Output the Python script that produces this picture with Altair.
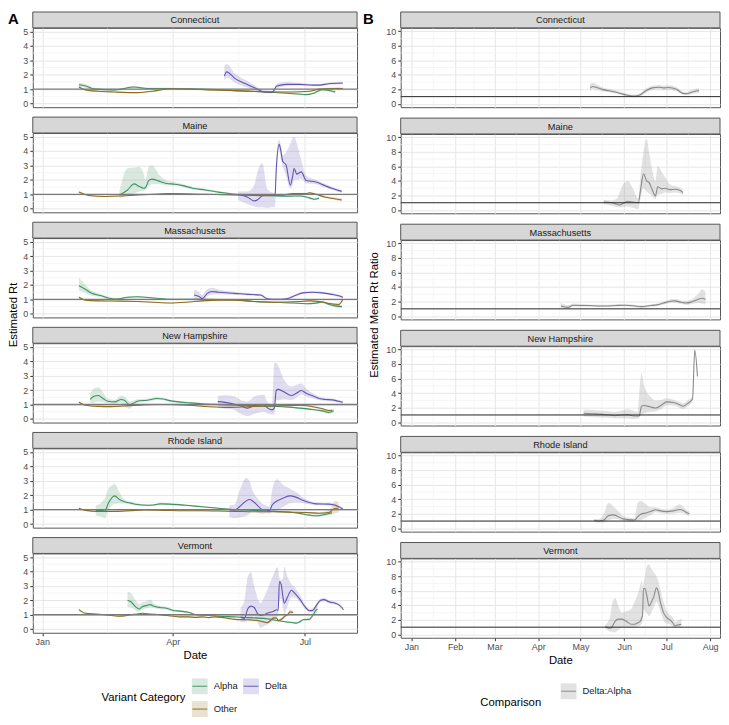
import altair as alt
import pandas as pd

# ---------------- categories, colours, labels ----------------
STATES = ["Connecticut", "Maine", "Massachusetts", "New Hampshire", "Rhode Island", "Vermont"]
VARIANTS = ["Alpha", "Delta", "Other"]
VARIANT_COLORS = ["#3F9363", "#6354B2", "#8F6C1F"]
COMPARISONS = ["Delta:Alpha"]
COMPARISON_COLORS = ["#8A8A8A"]

# axis breaks (x in days since 2021-01-01)
LEFT_X_TICKS = [0, 90, 181]
LEFT_X_MINOR = [45, 135.5]
RIGHT_X_TICKS = [0, 31, 59, 90, 120, 151, 181, 212]
RIGHT_X_MINOR = [15.5, 44.5, 74.5, 105, 135.5, 166, 196.5]
LEFT_Y_TICKS = [0, 1, 2, 3, 4, 5]
LEFT_Y_MINOR = [0.5, 1.5, 2.5, 3.5, 4.5]
RIGHT_Y_TICKS = [0, 2, 4, 6, 8, 10]
RIGHT_Y_MINOR = [1, 3, 5, 7, 9]
REFERENCE_LINE = [1]

# ---------------- Panel A: estimated Rt, rows = (day, Rt, lower, upper) ----------------
CT_ALPHA = [(25.3,1.30,1.15,1.45),(29.8,1.22,1.10,1.36),(36.5,1.00,0.92,1.08),(49.9,0.95,0.88,1.02),
            (63.3,1.15,1.08,1.22),(72.3,1.05,0.99,1.11),(90.2,1.05,1.00,1.10),(110.3,1.00,0.95,1.05),
            (132.7,0.90,0.86,0.94),(155.0,0.80,0.76,0.84),(168.5,0.72,0.68,0.76),(181.9,0.62,0.57,0.67),
            (186.4,0.70,0.64,0.76),(193.1,0.97,0.89,1.05),(202.0,0.80,0.70,0.90)]
CT_DELTA = [(125.5,1.90,1.60,2.60),(127.1,2.20,1.80,2.75),(132.7,1.75,1.45,2.10),(141.6,1.30,1.10,1.55),
            (148.3,1.00,0.88,1.15),(152.8,0.80,0.72,0.90),(158.4,0.78,0.70,0.88),(161.7,1.22,1.05,1.40),
            (168.5,1.33,1.22,1.50),(177.4,1.33,1.24,1.42),(186.4,1.28,1.20,1.36),(190.8,1.28,1.20,1.36),
            (197.5,1.38,1.30,1.46),(207.2,1.43,1.34,1.52)]
CT_OTHER = [(25.3,1.15,1.05,1.25),(29.8,0.95,0.90,1.00),(38.7,0.85,0.80,0.90),(49.9,0.80,0.76,0.84),
            (65.5,0.76,0.72,0.80),(79.0,0.90,0.86,0.94),(87.9,1.03,0.99,1.07),(101.3,1.00,0.97,1.03),
            (114.8,0.95,0.92,0.98),(132.7,0.90,0.87,0.93),(155.0,0.82,0.79,0.85),(172.9,0.80,0.77,0.83),
            (184.1,0.85,0.81,0.89),(190.8,1.00,0.95,1.05),(199.8,1.05,0.98,1.12),(207.2,1.05,0.97,1.13)]

ME_ALPHA = [(53.2,0.95,0.75,1.20),(58.8,1.30,0.90,2.80),(63.3,1.72,1.05,2.85),(66.7,1.55,1.20,2.90),
            (70.0,1.42,1.25,2.40),(71.1,1.45,1.30,2.00),(73.4,1.95,1.55,2.90),(75.6,2.05,1.70,3.00),
            (81.2,1.88,1.70,2.30),(85.7,1.75,1.60,1.95),(91.3,1.70,1.60,1.85),(96.9,1.60,1.50,1.72),
            (103.6,1.42,1.34,1.52),(112.5,1.30,1.22,1.38),(121.5,1.15,1.08,1.22),(132.7,1.00,0.94,1.06),
            (146.1,0.95,0.89,1.01),(159.5,0.90,0.85,0.95),(170.8,0.87,0.82,0.92),(177.4,0.88,0.82,0.94),
            (184.1,0.75,0.68,0.82),(187.5,0.66,0.58,0.74),(190.8,0.72,0.62,0.82)]
ME_DELTA = [(135.0,0.98,0.60,1.20),(141.6,0.80,0.30,1.20),(146.0,0.54,0.15,1.60),(148.5,0.62,0.10,2.60),
            (151.7,0.90,0.10,3.15),(155.0,0.95,0.05,1.40),(159.5,0.95,0.10,1.10),(160.5,1.00,0.10,1.20),
            (161.3,2.70,2.20,3.20),(163.3,4.46,4.10,4.80),(164.5,4.00,3.50,4.40),(165.8,3.27,2.90,3.70),
            (168.0,3.05,2.30,3.90),(171.0,1.63,1.40,4.50),(172.5,2.20,1.60,4.90),(173.6,2.79,2.00,5.00),
            (175.5,2.40,2.00,4.50),(178.5,2.55,2.10,3.40),(181.9,1.96,1.75,2.30),(188.6,1.85,1.70,2.00),
            (195.0,1.59,1.47,1.71),(200.0,1.40,1.30,1.50),(206.4,1.20,1.10,1.30)]
ME_OTHER = [(25.3,1.15,1.05,1.25),(32.0,0.92,0.87,0.97),(43.2,0.85,0.81,0.89),(54.4,0.88,0.84,0.92),
            (65.5,0.95,0.91,0.99),(76.7,1.00,0.97,1.03),(87.9,1.05,1.02,1.08),(110.3,1.00,0.97,1.03),
            (132.7,0.95,0.92,0.98),(155.0,0.90,0.87,0.93),(166.2,0.95,0.91,0.99),(172.9,1.05,1.00,1.10),
            (181.9,1.05,1.00,1.10),(184.1,1.10,1.04,1.16),(188.6,1.00,0.94,1.06),(195.3,0.80,0.72,0.88),
            (199.8,0.72,0.63,0.81),(206.5,0.60,0.50,0.72)]

MA_ALPHA = [(25.3,1.95,1.60,2.50),(29.8,1.70,1.45,2.00),(34.2,1.42,1.25,1.60),(40.9,1.25,1.15,1.36),
            (45.4,1.10,1.02,1.18),(49.9,1.02,0.96,1.08),(53.2,1.05,0.99,1.11),(58.8,1.15,1.09,1.21),
            (65.5,1.18,1.12,1.24),(76.7,1.10,1.05,1.15),(87.9,1.00,0.96,1.04),(101.3,1.00,0.96,1.04),
            (110.3,1.00,0.96,1.04),(132.7,0.97,0.93,1.01),(146.1,0.85,0.81,0.89),(159.5,0.80,0.76,0.84),
            (172.9,0.75,0.71,0.79),(181.9,0.70,0.65,0.75),(188.6,0.74,0.68,0.80),(193.1,0.82,0.75,0.89),
            (197.5,0.66,0.58,0.74),(202.0,0.55,0.46,0.64),(206.5,0.50,0.40,0.60)]
MA_DELTA = [(104.7,1.30,0.90,1.70),(108.1,1.20,0.95,1.50),(110.3,1.05,0.85,1.30),(113.6,1.40,1.20,1.70),
            (117.0,1.55,1.32,1.80),(121.5,1.50,1.35,1.68),(132.7,1.42,1.32,1.52),(141.6,1.35,1.27,1.43),
            (150.6,1.30,1.22,1.38),(155.0,1.05,0.97,1.13),(161.7,1.00,0.93,1.07),(168.5,1.05,0.98,1.12),
            (175.2,1.30,1.22,1.38),(179.6,1.45,1.37,1.53),(186.4,1.50,1.42,1.58),(193.1,1.45,1.37,1.53),
            (199.8,1.35,1.27,1.43),(204.3,1.25,1.16,1.34),(207.2,1.15,1.05,1.25)]
MA_OTHER = [(25.3,1.15,1.08,1.22),(29.8,0.95,0.90,1.00),(38.7,0.90,0.86,0.94),(54.4,0.88,0.84,0.92),
            (65.5,0.85,0.82,0.88),(76.7,0.80,0.77,0.83),(87.9,0.75,0.72,0.78),(99.1,0.80,0.77,0.83),
            (110.3,0.90,0.87,0.93),(121.5,0.95,0.92,0.98),(132.7,0.95,0.92,0.98),(146.1,0.85,0.82,0.88),
            (159.5,0.80,0.77,0.83),(177.4,0.85,0.81,0.89),(184.1,0.90,0.85,0.95),(190.8,0.85,0.79,0.91),
            (197.5,0.72,0.65,0.79),(204.3,0.65,0.57,0.73),(207.2,1.00,0.88,1.12)]

NH_ALPHA = [(33.1,1.35,1.10,1.70),(35.3,1.55,1.10,2.10),(38.7,1.62,1.20,2.20),(42.1,1.40,1.15,1.80),
            (45.4,1.22,1.08,1.40),(49.9,1.18,1.05,1.32),(54.4,1.35,1.10,1.60),(56.6,1.30,0.90,1.55),
            (60.0,1.00,0.70,1.25),(62.0,1.05,0.85,1.25),(65.5,1.22,1.10,1.36),(72.3,1.30,1.20,1.40),
            (79.0,1.42,1.32,1.52),(83.4,1.38,1.29,1.47),(87.9,1.27,1.19,1.35),(92.4,1.20,1.13,1.27),
            (101.3,1.12,1.06,1.18),(110.3,1.05,1.00,1.10),(121.5,1.00,0.95,1.05),(132.7,0.96,0.91,1.01),
            (144.0,0.92,0.87,0.97),(155.0,0.89,0.84,0.94),(166.2,0.85,0.80,0.90),(177.4,0.75,0.69,0.81),
            (184.1,0.68,0.62,0.74),(193.1,0.56,0.48,0.64),(197.5,0.45,0.35,0.58),(200.9,0.56,0.45,0.72)]
NH_DELTA = [(121.0,1.20,0.75,1.60),(126.0,1.15,0.70,1.65),(132.7,1.02,0.60,1.55),(137.1,0.90,0.35,1.30),
            (141.6,0.75,0.20,1.20),(146.1,0.92,0.35,1.55),(152.8,1.00,0.50,1.70),(155.0,0.78,0.40,1.20),
            (158.4,0.63,0.30,1.00),(160.0,0.75,0.35,3.90),(161.3,1.98,1.30,3.90),(162.6,2.05,1.30,3.70),
            (166.2,1.90,1.35,2.80),(171.8,1.62,1.30,2.25),(176.3,1.85,1.55,2.40),(178.5,1.97,1.70,2.45),
            (181.9,1.78,1.55,2.10),(186.4,1.60,1.42,1.80),(190.8,1.42,1.30,1.56),(195.3,1.35,1.25,1.45),
            (199.8,1.32,1.22,1.42),(204.3,1.22,1.12,1.32),(207.2,1.15,1.05,1.25)]
NH_OTHER = [(25.3,1.15,1.08,1.22),(29.8,0.95,0.90,1.00),(38.7,0.87,0.83,0.91),(47.7,0.85,0.81,0.89),
            (56.6,0.90,0.86,0.94),(65.5,0.95,0.92,0.98),(76.7,1.00,0.97,1.03),(87.9,1.00,0.97,1.03),
            (101.3,0.95,0.92,0.98),(114.8,0.85,0.82,0.88),(128.2,0.80,0.77,0.83),(141.6,0.85,0.82,0.88),
            (155.0,0.90,0.86,0.94),(170.8,0.92,0.88,0.96),(177.4,0.95,0.90,1.00),(186.4,0.85,0.79,0.91),
            (193.1,0.70,0.63,0.77),(197.5,0.58,0.50,0.66),(199.8,0.60,0.50,0.70)]

RI_ALPHA = [(36.9,0.95,0.60,1.30),(40.9,0.95,0.50,1.50),(43.2,0.90,0.40,1.80),(45.4,1.40,0.90,2.40),
            (48.8,1.90,1.35,2.75),(49.9,1.95,1.40,2.80),(53.2,1.70,1.45,2.20),(56.6,1.55,1.42,1.72),
            (61.1,1.45,1.35,1.56),(65.5,1.35,1.27,1.44),(72.3,1.30,1.23,1.37),(76.7,1.32,1.25,1.39),
            (81.2,1.40,1.33,1.47),(87.9,1.38,1.31,1.45),(99.1,1.30,1.24,1.36),(110.3,1.20,1.15,1.25),
            (121.5,1.10,1.05,1.15),(132.7,1.00,0.96,1.04),(146.1,0.95,0.91,0.99),(155.0,0.90,0.86,0.94),
            (166.2,0.85,0.81,0.89),(172.9,0.80,0.75,0.85),(179.6,0.70,0.64,0.76),(184.1,0.62,0.55,0.69),
            (188.6,0.57,0.50,0.64),(194.2,0.65,0.56,0.74),(199.8,0.78,0.66,0.90)]
RI_DELTA = [(128.9,0.98,0.50,1.30),(132.7,0.98,0.40,1.35),(136.0,1.20,0.45,2.30),(140.5,1.60,0.55,3.20),
            (142.7,1.70,0.70,3.00),(145.0,1.60,0.90,2.30),(148.3,1.30,0.80,1.80),(151.7,1.00,0.70,1.40),
            (155.0,0.98,0.75,1.25),(156.6,0.90,0.70,1.20),(158.4,1.30,0.85,2.30),(161.7,1.60,0.95,3.10),
            (166.2,1.80,1.20,2.70),(170.8,1.95,1.45,2.45),(175.2,1.85,1.50,2.20),(179.6,1.65,1.45,1.85),
            (184.1,1.50,1.38,1.62),(188.6,1.40,1.30,1.50),(197.5,1.38,1.29,1.47),(202.0,1.30,1.21,1.39),
            (204.3,1.20,1.11,1.29),(207.2,1.05,0.96,1.14)]
RI_OTHER = [(25.3,1.10,1.03,1.17),(29.8,0.95,0.90,1.00),(38.7,0.87,0.83,0.91),(49.9,0.88,0.84,0.92),
            (61.1,0.93,0.90,0.96),(70.0,0.97,0.94,1.00),(83.4,0.95,0.92,0.98),(96.9,0.92,0.89,0.95),
            (110.3,0.92,0.89,0.95),(121.5,0.90,0.87,0.93),(132.7,0.88,0.85,0.91),(146.1,0.85,0.82,0.88),
            (159.5,0.85,0.81,0.89),(170.8,0.82,0.78,0.86),(181.9,0.80,0.75,0.85),(190.8,0.75,0.68,0.82),
            (197.5,0.80,0.68,0.95),(202.0,1.10,0.75,1.60),(204.3,1.10,0.80,1.50)]

VT_ALPHA = [(58.8,2.00,1.55,2.60),(61.1,1.90,1.50,2.50),(64.4,1.55,1.30,2.00),(66.7,1.40,1.20,1.75),
            (68.9,1.55,1.35,1.85),(72.3,1.65,1.45,1.95),(74.5,1.70,1.50,2.05),(76.7,1.60,1.45,1.80),
            (81.2,1.50,1.38,1.62),(85.7,1.45,1.35,1.55),(90.2,1.30,1.22,1.38),(94.6,1.25,1.18,1.32),
            (101.3,1.15,1.09,1.21),(105.8,1.00,0.95,1.05),(114.8,0.95,0.90,1.00),(121.5,0.90,0.85,0.95),
            (132.7,0.85,0.80,0.90),(146.1,0.78,0.73,0.83),(155.0,0.72,0.67,0.77),(161.7,0.60,0.55,0.65),
            (168.5,0.50,0.44,0.56),(172.9,0.45,0.39,0.51),(175.2,0.42,0.36,0.48),(177.4,0.50,0.43,0.57),
            (179.6,0.65,0.57,0.73),(184.1,0.68,0.59,0.77),(186.4,0.95,0.80,1.10),(188.6,1.30,1.05,1.55),
            (189.7,1.40,1.15,1.65)]
VT_DELTA = [(136.7,0.85,0.50,1.50),(139.4,0.75,0.50,2.00),(141.6,1.40,0.60,3.60),(143.8,1.60,0.70,3.95),
            (146.1,1.50,0.90,3.00),(148.3,1.10,0.50,2.20),(150.6,0.95,0.10,1.80),(152.8,1.00,0.20,2.20),
            (155.0,1.10,0.30,2.70),(159.5,1.25,0.60,3.80),(161.7,1.35,0.80,4.30),(162.6,1.30,0.90,4.20),
            (163.5,3.30,2.00,3.50),(164.7,3.10,2.10,3.40),(165.8,2.30,1.50,3.50),(166.9,1.80,1.00,4.35),
            (168.5,2.10,1.40,3.80),(171.8,2.70,2.20,3.10),(174.0,2.50,2.20,2.90),(177.4,2.10,1.90,2.40),
            (180.8,1.60,1.45,1.75),(184.1,1.28,1.16,1.40),(186.4,1.30,1.18,1.42),(188.6,1.60,1.47,1.73),
            (191.9,2.00,1.88,2.12),(194.2,2.05,1.93,2.17),(197.5,1.90,1.79,2.01),(202.0,1.80,1.69,1.91),
            (204.3,1.70,1.59,1.81),(206.5,1.50,1.39,1.61),(207.6,1.35,1.24,1.46)]
VT_OTHER = [(25.3,1.35,1.25,1.45),(29.8,1.10,1.04,1.16),(36.5,1.05,1.00,1.10),(43.2,1.00,0.96,1.04),
            (47.7,0.95,0.91,0.99),(52.1,0.90,0.86,0.94),(56.6,0.92,0.88,0.96),(61.1,1.00,0.96,1.04),
            (65.5,1.05,1.01,1.09),(68.9,1.10,1.06,1.14),(74.5,1.05,1.01,1.09),(81.2,1.00,0.96,1.04),
            (85.7,0.95,0.91,0.99),(90.2,0.90,0.86,0.94),(94.6,0.85,0.81,0.89),(101.3,0.85,0.81,0.89),
            (105.8,0.82,0.78,0.86),(110.3,0.85,0.81,0.89),(114.8,0.80,0.76,0.84),(119.2,0.85,0.81,0.89),
            (123.7,0.82,0.78,0.86),(128.2,0.75,0.71,0.79),(132.7,0.68,0.64,0.72),(141.6,0.65,0.61,0.69),
            (148.3,0.60,0.55,0.65),(152.8,0.50,0.44,0.56),(155.0,0.45,0.39,0.51),(157.3,0.60,0.53,0.67),
            (159.5,0.78,0.70,0.86),(161.7,0.75,0.67,0.83),(162.6,0.60,0.52,0.68),(165.1,0.70,0.61,0.79),
            (167.3,0.90,0.80,1.00),(169.6,1.05,0.94,1.16),(170.8,1.20,1.08,1.32),(172.9,1.15,1.02,1.28)]

# ---------------- Panel B: Delta:Alpha mean Rt ratio, rows = (day, ratio, lower, upper) ----------------
CT_RATIO = [(126.8,2.15,1.85,2.70),(128.4,2.40,2.05,2.90),(135.3,2.00,1.75,2.30),(144.5,1.65,1.45,1.90),
            (151.4,1.28,1.10,1.50),(157.1,1.08,0.92,1.28),(161.7,1.20,1.00,1.40),(166.3,1.80,1.50,2.10),
            (170.9,2.20,1.90,2.50),(175.5,2.30,2.00,2.60),(178.9,2.20,1.90,2.50),(182.3,2.25,1.95,2.55),
            (188.1,2.00,1.75,2.30),(192.7,1.45,1.25,1.70),(195.0,1.40,1.20,1.65),(199.5,1.65,1.40,1.95),
            (204.1,1.85,1.55,2.20)]
ME_RATIO = [(136.5,1.10,0.80,1.40),(142.2,1.00,0.60,1.30),(145.6,0.80,0.40,1.50),(147.9,0.70,0.35,2.50),
            (150.2,0.90,0.40,3.50),(153.7,1.20,0.50,4.00),(157.1,1.10,0.30,3.00),(161.0,1.00,0.10,1.60),
            (162.8,3.00,1.80,5.00),(164.7,4.95,3.00,8.00),(167.0,4.00,2.50,9.80),(168.6,3.80,2.30,8.00),
            (170.9,2.80,1.90,5.50),(173.2,1.95,1.50,4.00),(174.8,3.20,2.10,6.00),(177.8,2.90,2.20,5.20),
            (180.0,3.00,2.40,4.50),(183.5,2.80,2.30,3.50),(186.9,2.85,2.40,3.30),(190.4,2.70,2.30,3.10),
            (192.7,2.40,2.00,2.80)]
MA_RATIO = [(106.0,1.40,1.10,1.80),(111.2,1.20,1.00,1.50),(114.7,1.50,1.30,1.75),(126.1,1.45,1.30,1.60),
            (135.3,1.40,1.25,1.55),(144.5,1.45,1.30,1.60),(151.4,1.50,1.35,1.65),(158.3,1.40,1.25,1.55),
            (162.8,1.30,1.15,1.45),(169.7,1.45,1.30,1.60),(174.3,1.55,1.40,1.75),(178.9,1.80,1.60,2.00),
            (183.5,2.05,1.80,2.30),(186.9,2.10,1.85,2.35),(191.5,1.90,1.65,2.15),(195.0,1.80,1.55,2.10),
            (199.5,2.00,1.70,2.40),(204.1,2.35,1.80,3.20),(206.4,2.45,1.70,3.70),(208.7,2.30,1.60,3.30)]
NH_RATIO = [(122.2,1.23,0.80,1.70),(130.7,1.15,0.70,1.65),(139.9,1.00,0.60,1.50),(144.5,0.90,0.55,1.40),
            (149.1,1.00,0.55,1.60),(153.7,1.05,0.50,1.80),(157.1,0.90,0.45,1.60),(160.6,0.85,0.50,1.40),
            (161.7,0.90,0.70,4.00),(163.3,2.20,1.00,6.70),(165.1,2.30,1.20,5.00),(169.7,2.10,1.40,3.50),
            (173.2,1.95,1.50,3.00),(177.8,2.40,1.90,3.10),(181.2,2.80,2.30,3.30),(185.8,2.70,2.30,3.10),
            (190.4,2.40,2.00,2.80),(192.7,2.20,1.80,2.60),(196.1,2.60,2.20,3.00),(199.5,3.20,2.80,3.60),
            (201.1,9.90,9.60,10.10),(203.0,6.30,6.00,6.60)]
RI_RATIO = [(129.6,1.10,0.90,1.30),(133.0,1.00,0.80,1.30),(136.5,1.15,0.80,2.00),(139.9,1.75,1.10,3.50),
            (143.3,1.85,1.30,3.00),(146.8,1.60,1.25,2.40),(150.2,1.30,1.05,1.70),(153.7,1.20,0.95,1.50),
            (158.3,1.15,0.90,1.40),(160.6,1.60,1.00,3.50),(162.8,1.95,1.10,3.80),(166.3,2.10,1.50,3.30),
            (169.7,2.30,1.80,2.90),(173.2,2.55,2.20,2.90),(176.6,2.40,2.10,2.70),(181.2,2.30,2.00,2.60),
            (185.8,2.40,2.05,2.80),(190.4,2.60,2.15,3.30),(192.7,2.50,2.10,3.00),(195.0,2.20,1.85,2.60),
            (197.2,2.00,1.70,2.30)]
VT_RATIO = [(137.6,1.10,0.80,1.30),(141.1,0.85,0.40,2.50),(142.2,1.00,0.30,4.00),(144.5,1.80,0.30,5.00),
            (146.8,2.10,0.60,4.00),(149.1,2.10,1.00,3.00),(152.5,1.80,1.00,3.20),(156.0,1.40,0.90,3.50),
            (158.3,1.40,1.00,4.50),(160.6,1.60,1.10,5.50),(162.8,1.90,1.30,7.00),(163.6,2.40,1.50,7.40),
            (164.0,2.50,1.80,6.50),(164.7,6.30,3.50,7.00),(165.8,6.30,3.20,8.00),(167.4,5.00,2.80,9.50),
            (168.6,3.90,2.50,9.60),(170.4,4.50,3.00,9.00),(172.0,5.20,3.80,8.50),(173.9,6.40,4.50,8.00),
            (175.0,6.00,4.20,7.50),(176.6,4.50,3.20,6.20),(178.9,3.00,2.00,4.50),(181.2,2.30,1.50,3.20),
            (183.5,2.00,1.40,2.70),(185.8,1.50,1.00,2.20),(186.9,1.20,0.90,1.70),(189.2,1.30,1.00,1.90),
            (191.5,1.40,1.00,2.20)]

LEFT_SERIES = [(CT_ALPHA, CT_DELTA, CT_OTHER), (ME_ALPHA, ME_DELTA, ME_OTHER),
               (MA_ALPHA, MA_DELTA, MA_OTHER), (NH_ALPHA, NH_DELTA, NH_OTHER),
               (RI_ALPHA, RI_DELTA, RI_OTHER), (VT_ALPHA, VT_DELTA, VT_OTHER)]
RATIO_SERIES = [CT_RATIO, ME_RATIO, MA_RATIO, NH_RATIO, RI_RATIO, VT_RATIO]

# ---------------- helpers ----------------
BASE = pd.Timestamp("2021-01-01")


def iso(day):
    return (BASE + pd.Timedelta(days=float(day))).strftime("%Y-%m-%dT%H:%M:%S")


def dt(day):
    t = BASE + pd.Timedelta(days=float(day))
    return alt.DateTime(year=t.year, month=t.month, date=t.day, hours=t.hour, minutes=t.minute)


def frame(rows, state, cat):
    df = pd.DataFrame(rows, columns=["day", "rt", "lo", "hi"])
    df["date"] = [iso(d) for d in df["day"]]
    df["state"] = state
    df["cat"] = cat
    return df


left_df = pd.concat([frame(rows, s, v)
                     for s, group in zip(STATES, LEFT_SERIES)
                     for v, rows in zip(VARIANTS, group)], ignore_index=True)
ratio_df = pd.concat([frame(rows, s, COMPARISONS[0])
                      for s, rows in zip(STATES, RATIO_SERIES)], ignore_index=True)

# ---------------- style / layout ----------------
FONT = "Liberation Sans"
WL, WR, PH, SH, GAP = 327, 322, 80, 16, 7
STACK_H = 6 * (PH + SH) + 5 * GAP
GRID_MAJOR = "#E6E6E6"
GRID_MINOR = "#F1F1F1"
BORDER = "#555555"
STRIP_FILL = "#D7D7D7"
TICK_COLOR = "#333333"
LABEL_COLOR = "#4D4D4D"
TITLE_SIZE = 11.4

LEFT_SPEC = dict(width=WL, xmin=-6.5, xmax=217, xticks=LEFT_X_TICKS, xminor=LEFT_X_MINOR,
                 ydom=[-0.25, 5.25], yticks=LEFT_Y_TICKS, yminor=LEFT_Y_MINOR, widest="5",
                 cats=VARIANTS, colors=VARIANT_COLORS, ref_color="#7A7A7A", ref_width=1.3,
                 band_opacity=0.2)
RIGHT_SPEC = dict(width=WR, xmin=-7.6, xmax=219, xticks=RIGHT_X_TICKS, xminor=RIGHT_X_MINOR,
                  ydom=[-0.45, 10.45], yticks=RIGHT_Y_TICKS, yminor=RIGHT_Y_MINOR, widest="10",
                  cats=COMPARISONS, colors=COMPARISON_COLORS, ref_color="#262626", ref_width=1.0,
                  band_opacity=0.25)


def make_panel(df, state, bottom, sp):
    w = sp["width"]
    xs = alt.Scale(domain=[dt(sp["xmin"]), dt(sp["xmax"])])
    ys = alt.Scale(domain=sp["ydom"], nice=False, zero=False)
    cs = alt.Scale(domain=sp["cats"], range=sp["colors"])
    if bottom:
        xaxis = alt.Axis(values=[dt(d) for d in sp["xticks"]], format="%b", title="Date",
                         grid=True, gridColor=GRID_MAJOR, gridWidth=1, domain=False,
                         tickColor=TICK_COLOR, tickSize=3, labelColor=LABEL_COLOR, labelFontSize=9,
                         labelPadding=2, labelFlush=False, titleFontSize=TITLE_SIZE,
                         titleFontWeight="normal", titleColor="#000000", titlePadding=3)
    else:
        xaxis = alt.Axis(values=[dt(d) for d in sp["xticks"]], labels=False, ticks=False,
                         title=None, grid=True, gridColor=GRID_MAJOR, gridWidth=1, domain=False)
    yaxis = alt.Axis(values=sp["yticks"], title=None, grid=True, gridColor=GRID_MAJOR, gridWidth=1,
                     domain=False, tickColor=TICK_COLOR, tickSize=3, labelColor=LABEL_COLOR,
                     labelFontSize=9, labelPadding=2)
    X = alt.X("date:T", scale=xs, axis=xaxis)
    label = pd.DataFrame({"state": [state]})

    minor_x = alt.Chart(pd.DataFrame({"date": [iso(d) for d in sp["xminor"]]})).mark_rule(
        color=GRID_MINOR, strokeWidth=0.7).encode(x=X)
    minor_y = alt.Chart(pd.DataFrame({"rt": sp["yminor"]})).mark_rule(
        color=GRID_MINOR, strokeWidth=0.7).encode(y=alt.Y("rt:Q", scale=ys, axis=yaxis))
    band = alt.Chart(df).mark_area(opacity=sp["band_opacity"], interpolate="monotone", clip=True).encode(
        x=X, y=alt.Y("lo:Q", scale=ys, axis=yaxis, stack=None), y2="hi:Q",
        color=alt.Color("cat:N", scale=cs, legend=None))
    line = alt.Chart(df).mark_line(strokeWidth=1.1, interpolate="monotone", clip=True).encode(
        x=X, y=alt.Y("rt:Q", scale=ys, axis=yaxis),
        color=alt.Color("cat:N", scale=cs, legend=None))
    ref = alt.Chart(pd.DataFrame({"rt": REFERENCE_LINE})).mark_rule(
        color=sp["ref_color"], strokeWidth=sp["ref_width"]).encode(
        y=alt.Y("rt:Q", scale=ys, axis=yaxis))
    strip_box = alt.Chart(label).mark_rect(fill=STRIP_FILL, stroke=BORDER, strokeWidth=1).encode(
        x=alt.value(0), x2=alt.value(w), y=alt.value(-SH), y2=alt.value(0))
    strip_txt = alt.Chart(label).mark_text(fontSize=9.3, fontWeight="normal", color="#1A1A1A").encode(
        text="state:N", x=alt.value(w / 2), y=alt.value(-SH / 2 + 0.5))
    return alt.layer(minor_x, minor_y, band, line, ref, strip_box, strip_txt).properties(
        width=w, height=PH,
        view=alt.ViewBackground(fill="white", stroke=BORDER, strokeWidth=1))


def make_stack(df, sp):
    panels = [make_panel(df[df["state"] == s], s, i == len(STATES) - 1, sp)
              for i, s in enumerate(STATES)]
    return alt.vconcat(*panels, spacing=GAP)


def make_legend(cats, colors, title, sp, kx0, kx1, title_x, opacity):
    ld = pd.DataFrame({"cat": cats,
                       "col": [i % 2 for i in range(len(cats))],
                       "row": [i // 2 for i in range(len(cats))]})
    xs = alt.Scale(domain=[0, 1], range=[kx0, kx1])
    ys = alt.Scale(domain=[0, 1], range=[9, 32])
    cs = alt.Scale(domain=cats, range=colors)
    # invisible axis with the same extent as the panels' y axis keeps the columns aligned
    ghost = alt.Axis(values=[0], labelExpr="'%s'" % sp["widest"], labelColor="white",
                     tickColor="white", tickSize=3, labelFontSize=9, labelPadding=2,
                     domain=False, grid=False, title=None)
    x = alt.X("col:Q", scale=xs, axis=None)
    y = alt.Y("row:Q", scale=ys, axis=ghost)
    box = alt.Chart(ld).mark_square(size=256, opacity=opacity).encode(
        x=x, y=y, color=alt.Color("cat:N", scale=cs, legend=None))
    tick = alt.Chart(ld).mark_tick(orient="horizontal", size=15, thickness=1.4).encode(
        x=x, y=y, color=alt.Color("cat:N", scale=cs, legend=None))
    lab = alt.Chart(ld).mark_text(align="left", dx=14, fontSize=9.5, color="#1A1A1A").encode(
        x=x, y=y, text="cat:N")
    ttl = alt.Chart(pd.DataFrame({"t": [title]})).mark_text(
        align="right", fontSize=TITLE_SIZE, color="#000000").encode(
        text="t:N", x=alt.value(title_x), y=alt.value(21))
    return alt.layer(box, tick, lab, ttl).properties(width=sp["width"], height=42)


def side_title(text, letter, width, tx):
    t = alt.Chart(pd.DataFrame({"t": [text]})).mark_text(
        angle=270, fontSize=TITLE_SIZE, color="#000000").encode(
        text="t:N", x=alt.value(tx), y=alt.value(STACK_H / 2 - SH))
    l = alt.Chart(pd.DataFrame({"t": [letter]})).mark_text(
        fontSize=15, fontWeight="bold", align="left", baseline="top", color="#000000").encode(
        text="t:N", x=alt.value(0), y=alt.value(-SH))
    return alt.layer(l, t).properties(width=width, height=STACK_H - SH)


legend_a = make_legend(VARIANTS, VARIANT_COLORS, "Variant Category", LEFT_SPEC,
                       0.515 * WL, 0.673 * WL, 0.471 * WL, 0.2)
legend_b = make_legend(COMPARISONS, COMPARISON_COLORS, "Comparison", RIGHT_SPEC,
                       0.526 * WR, 0.526 * WR + 50, 0.44 * WR, 0.25)

col_a = alt.vconcat(make_stack(left_df, LEFT_SPEC), legend_a, spacing=16)
col_b = alt.vconcat(make_stack(ratio_df, RIGHT_SPEC), legend_b, spacing=16)

left_block = alt.hconcat(side_title("Estimated Rt", "A", 10, 6), col_a, spacing=2)
right_block = alt.hconcat(side_title("Estimated Mean Rt Ratio", "B", 20, 12), col_b, spacing=2)

chart = alt.hconcat(left_block, right_block, spacing=4).resolve_scale(
    color="independent").properties(padding=0, background="white").configure(
    font=FONT).configure_view(strokeWidth=0)

chart.save("out.html", embed_options={"renderer": "svg", "actions": False})
